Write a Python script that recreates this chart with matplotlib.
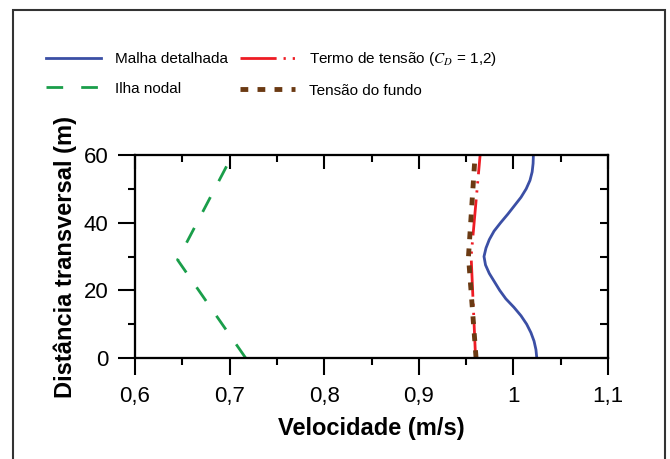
import numpy as np
import matplotlib
matplotlib.use("Agg")
import matplotlib.pyplot as plt
from matplotlib.patches import Rectangle
from matplotlib.ticker import MultipleLocator, FuncFormatter

plt.rcParams['font.family'] = ['Liberation Sans', 'DejaVu Sans']
plt.rcParams['mathtext.fontset'] = 'stix'

# data (velocity in m/s, transverse distance in m)
y_malha = [0, 2.5, 5, 7.5, 10, 12.5, 15, 17.5, 20, 22.5, 25, 27.5, 30,
           32.5, 35, 37.5, 40, 42.5, 45, 47.5, 50, 52.5, 55, 57.5, 60]
v_malha = [1.0247, 1.0238, 1.0218, 1.0185, 1.014, 1.008, 1.0005, 0.992,
           0.9855, 0.980, 0.9745, 0.9705, 0.9689, 0.971, 0.9745, 0.9795,
           0.9865, 0.994, 1.001, 1.008, 1.0135, 1.0175, 1.0198, 1.0208,
           1.0211]

y_ilha = [0, 29, 60]
v_ilha = [0.717, 0.645, 0.703]

y_termo = [0, 30, 60]
v_termo = [0.960, 0.9553, 0.9648]

y_fundo = [0, 30, 60]
v_fundo = [0.9605, 0.9525, 0.9595]

fig = plt.figure(figsize=(6.7, 4.59), dpi=100)
ax = fig.add_axes([0.2015, 0.22, 0.706, 0.4423])

ax.plot(v_malha, y_malha, color='#3b4fa5', lw=2.0, label='Malha detalhada')
ax.plot(v_ilha, y_ilha, color='#1a9e4a', lw=2.0, dashes=(6, 6.5),
        label='Ilha nodal')
ax.plot(v_termo, y_termo, color='#ee1c24', lw=2.0,
        dashes=(13, 2.5, 0.8, 2.5, 0.8, 2.5),
        label='Termo de tensão ($C_D$ = 1,2)')
ax.plot(v_fundo, y_fundo, color='#6b3a13', lw=3.5, dashes=(1.6, 1.9),
        label='Tensão do fundo')

ax.set_xlim(0.6, 1.1)
ax.set_ylim(0, 60)
ax.xaxis.set_major_locator(MultipleLocator(0.1))
ax.xaxis.set_minor_locator(MultipleLocator(0.05))
ax.yaxis.set_major_locator(MultipleLocator(20))
ax.yaxis.set_minor_locator(MultipleLocator(10))
comma = FuncFormatter(lambda v, p: ('%g' % round(v, 2)).replace('.', ','))
ax.xaxis.set_major_formatter(comma)

for s in ax.spines.values():
    s.set_linewidth(1.5)

ax.tick_params(which='both', direction='out', top=False, right=False,
               width=1.5, labelsize=16)
ax.tick_params(which='major', length=12)
ax.tick_params(which='minor', length=5)
ax.tick_params(axis='x', which='major', pad=8)
ax.tick_params(axis='y', which='major', pad=7)

# inward ticks on the top and right sides
axt = ax.twiny()
axt.set_xlim(ax.get_xlim())
axt.xaxis.set_major_locator(MultipleLocator(0.1))
axt.xaxis.set_minor_locator(MultipleLocator(0.05))
axt.tick_params(which='both', direction='in', width=1.5, labeltop=False)
axt.tick_params(which='major', length=10)
axt.tick_params(which='minor', length=5)

axr = ax.twinx()
axr.set_ylim(ax.get_ylim())
axr.yaxis.set_major_locator(MultipleLocator(20))
axr.yaxis.set_minor_locator(MultipleLocator(10))
axr.tick_params(which='both', direction='in', width=1.5, length=6,
                labelright=False)
for a in (axt, axr):
    for s in a.spines.values():
        s.set_linewidth(1.5)

ax.set_xlabel('Velocidade (m/s)', fontsize=17, fontweight='bold', labelpad=7)
ax.set_ylabel('Distância transversal (m)', fontsize=17, fontweight='bold',
              labelpad=5)

fig.legend(*ax.get_legend_handles_labels(), ncol=2, frameon=False,
           loc='upper left', bbox_to_anchor=(0.048, 0.92), fontsize=11,
           handlelength=3.6, handletextpad=0.9, columnspacing=0.8,
           labelspacing=1.0)

# frame around the whole figure (bottom edge falls outside the image)
fig.patches.append(Rectangle((0.0194, -0.05), 0.973, 1.028, fill=False,
                             lw=1.5, edgecolor='#333333',
                             transform=fig.transFigure, figure=fig))

fig.savefig('out.png', dpi=100)
